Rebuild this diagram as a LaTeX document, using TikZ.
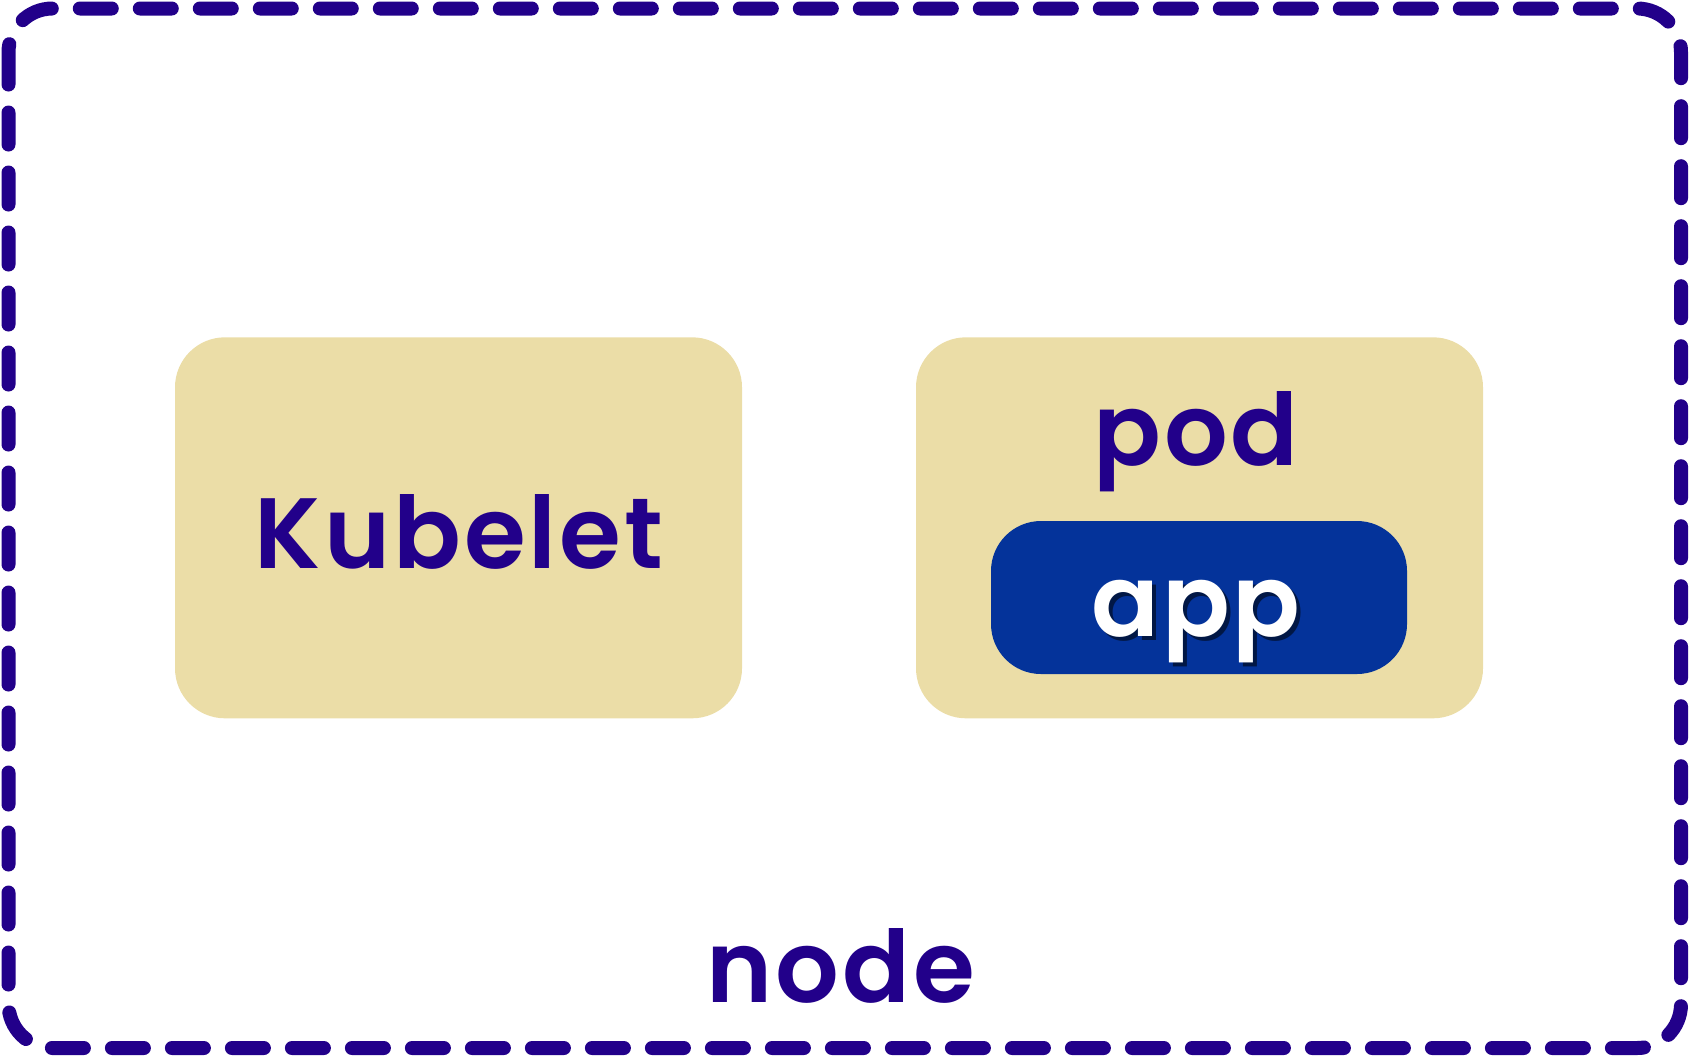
\documentclass[tikz,border=0pt]{standalone}
\usepackage{fontspec}
\setmainfont{Poppins}[BoldFont={Poppins SemiBold}]
\usepackage{xcolor}
\definecolor{ink}{HTML}{22008A}
\definecolor{khaki}{HTML}{EBDDA7}
\definecolor{appblue}{HTML}{04339A}
\usetikzlibrary{calc}

\tikzset{
    lbl/.style={font=\fontsize{50}{60}\selectfont\bfseries\addfontfeatures{LetterSpace=3}, text=ink, inner sep=0pt},
    box/.style={fill=khaki, rounded corners=25pt, inner sep=0pt, minimum width=283.5pt, minimum height=190.5pt}
}

\begin{document}
\begin{tikzpicture}[x=0.5pt,y=-0.5pt]
    \useasboundingbox (0,0) rectangle (1689,1056);
    % node border
    \draw[ink, line width=7pt, line cap=round, dash pattern=on 16pt off 14pt, rounded corners=22pt]
        (8.5,8.5) rectangle (1681,1048);
    \node[lbl, anchor=base] (nodelbl) at (841,1002) {node};
    % kubelet
    \node[box] (kubelet) at (458.5,527.8) {};
    \node[lbl, anchor=base] (kubeletlbl) at (459,568) {Kubelet};
    % pod with app
    \node[box] (pod) at (1199.5,527.8) {};
    \node[lbl, anchor=base] (podlbl) at (1196,465) {pod};
    \node[fill=appblue, rounded corners=25pt, minimum width=208pt, minimum height=76.5pt, inner sep=0pt] (app) at (1199,597.5) {};
    \node[lbl, anchor=base, text=black, opacity=0.55] (appshadow) at (1200,640) {app};
    \node[lbl, anchor=base, text=white] (applbl) at (1196,636) {app};
\end{tikzpicture}
\end{document}
